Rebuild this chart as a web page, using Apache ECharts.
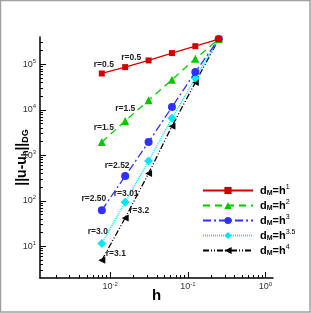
<!DOCTYPE html>
<html><head><meta charset="utf-8">
<script src="https://cdn.jsdelivr.net/npm/echarts@6/dist/echarts.min.js"></script>
<style>html,body{margin:0;padding:0;background:#fff}#c{width:311px;height:313px}</style>
</head><body><div id="c"></div>
<script>
// ---- data ----
const hValues = [1/128, 1/64, 1/32, 1/16, 1/8, 1/4];
const errH1  = [63000, 87000, 122000, 177000, 251000, 360000];
const errH2  = [1950, 5680, 16200, 46000, 133000, 360000];
const errH3  = [62, 350, 1950, 11500, 68000, 360000];
const errH35 = [11.5, 93, 750, 6500, 50000, 360000];
const errH4  = [4.9, 42, 400, 4350, 40000, 360000];
const notesH1  = ['r=0.5', 'r=0.5', '', '', '', ''];
const notesH2  = ['r=1.5', 'r=1.5', '', '', '', ''];
const notesH3  = ['r=2.50', 'r=2.52', '', '', '', ''];
const notesH35 = ['r=3.0', 'r=3.01', '', '', '', ''];
const notesH4  = ['r=3.1', 'r=3.2', '', '', '', ''];
const seriesNames = ['h1', 'h2', 'h3', 'h35', 'h4'];
const legendExp = ['1', '2', '3', '3.5', '4'];
const xMajorTicks = [0.01, 0.1, 1];
const yMajorTicks = [10, 100, 1000, 10000, 100000];
const xRange = [0.00125, 1.25];
const yRange = [2, 400000];

function minorTicks(lo, hi) {
  const out = [];
  for (let k = -4; k <= 6; k++) {
    for (let m = 2; m <= 9; m++) {
      const v = m * Math.pow(10, k);
      if (v > lo && v < hi) out.push(v);
    }
  }
  return out;
}

const labelRich = {
  b: {fontSize: 9, color: '#333', fontFamily: 'Liberation Sans', lineHeight: 12},
  s: {fontSize: 6, color: '#333', fontFamily: 'Liberation Sans', verticalAlign: 'top', lineHeight: 12, padding: [0, 0, 5, 0]}
};
const expFmt = v => '{b|10}{s|' + Math.round(Math.log10(v)) + '}';

const styles = [
  {color: '#d00000', dash: 'solid', symbol: 'rect', size: 6, rot: 0, offs: [[2, -9], [6, -9]]},
  {color: '#00c800', dash: [7, 5], symbol: 'triangle', size: 8, rot: 0, offs: [[2, -14], [0, -12]]},
  {color: '#3030ff', dash: [8, 3, 2, 3], symbol: 'circle', size: 8, rot: 0, offs: [[-8, -12], [-8, -10]]},
  {color: '#00e8f8', dash: [1, 1], symbol: 'diamond', size: 9, rot: 0, offs: [[-4, -12], [1, -9]]},
  {color: '#000000', dash: [6, 2, 1, 2, 1, 2], symbol: 'triangle', size: 7, rot: 90, offs: [[14, -7], [14, -7]]}
];
const allErr = [errH1, errH2, errH3, errH35, errH4];
const allNotes = [notesH1, notesH2, notesH3, notesH35, notesH4];

const series = seriesNames.map((n, i) => {
  const st = styles[i];
  return {
    name: n, type: 'line', xAxisIndex: 0, yAxisIndex: 0,
    symbol: st.symbol, symbolSize: st.size, symbolRotate: st.rot,
    itemStyle: {color: st.color},
    lineStyle: {color: st.color, width: i === 3 ? 1.5 : 1.3, type: st.dash},
    z: 10 - i,
    data: hValues.map((h, j) => {
      const d = {value: [h, allErr[i][j]]};
      if (allNotes[i][j]) {
        d.label = {show: true, formatter: allNotes[i][j], position: 'inside',
          offset: st.offs[j], color: '#222', fontSize: 8.5, fontWeight: 'bold', fontFamily: 'Liberation Sans'};
      }
      return d;
    })
  };
});

const gridRect = {left: 40, right: 38, top: 37, bottom: 35, containLabel: false, outerBoundsMode: 'none'};

const chart = echarts.init(document.getElementById('c'));
chart.setOption({
  animation: false,
  backgroundColor: '#fff',
  grid: [Object.assign({}, gridRect), Object.assign({}, gridRect)],
  graphic: [{type: 'rect', shape: {x: 0.5, y: 0.5, width: 309.5, height: 311.5}, style: {fill: 'none', stroke: '#a0a0a0', lineWidth: 1.5}, silent: true}],
  legend: {
    orient: 'vertical', left: 197, top: 179, itemWidth: 50, itemHeight: 9, itemGap: 2,
    data: seriesNames,
    formatter: name => '{a|d}{m|M}{a|=h}{e|' + legendExp[seriesNames.indexOf(name)] + '}',
    textStyle: {
      padding: [0, 0, 0, 2],
      rich: {
        a: {fontSize: 11, fontWeight: 'bold', color: '#000', fontFamily: 'Liberation Sans', lineHeight: 13},
        m: {fontSize: 7, fontWeight: 'bold', color: '#000', fontFamily: 'Liberation Sans', verticalAlign: 'bottom', lineHeight: 13},
        e: {fontSize: 7, color: '#000', fontFamily: 'Liberation Sans', verticalAlign: 'top', lineHeight: 13}
      }
    }
  },
  xAxis: [
    {type: 'log', gridIndex: 0, min: xRange[0], max: xRange[1], position: 'bottom',
     name: '{h|h}', nameLocation: 'middle', nameGap: 10, nameMoveOverlap: false,
     nameTextStyle: {rich: {h: {fontSize: 15, fontWeight: 'bold', color: '#000', fontFamily: 'Liberation Sans'}}},
     axisLine: {lineStyle: {color: '#000', width: 1.5}},
     axisTick: {inside: true, length: 6, customValues: xMajorTicks, lineStyle: {color: '#000'}},
     axisLabel: {customValues: xMajorTicks, margin: 3, formatter: expFmt, rich: labelRich},
     splitLine: {show: false}, minorTick: {show: false}},
    {type: 'log', gridIndex: 1, min: xRange[0], max: xRange[1], position: 'bottom',
     axisLine: {show: false},
     axisTick: {inside: true, length: 3, customValues: minorTicks(xRange[0], xRange[1]), lineStyle: {color: '#000'}},
     axisLabel: {show: false}, splitLine: {show: false}}
  ],
  yAxis: [
    {type: 'log', gridIndex: 0, min: yRange[0], max: yRange[1], position: 'left',
     name: '{a|||u-u}{s|h}{a|||}{s|DG}', nameLocation: 'middle', nameGap: 10, nameRotate: 90, nameMoveOverlap: false,
     nameTextStyle: {rich: {
       a: {fontSize: 14, fontWeight: 'bold', color: '#000', fontFamily: 'Liberation Sans', lineHeight: 16},
       s: {fontSize: 9, fontWeight: 'bold', color: '#000', fontFamily: 'Liberation Sans', verticalAlign: 'bottom', lineHeight: 16}
     }},
     axisLine: {lineStyle: {color: '#000', width: 1.5}},
     axisTick: {inside: true, length: 6, customValues: yMajorTicks, lineStyle: {color: '#000'}},
     axisLabel: {customValues: yMajorTicks, margin: 4, formatter: expFmt, rich: labelRich},
     splitLine: {show: false}, minorTick: {show: false}},
    {type: 'log', gridIndex: 1, min: yRange[0], max: yRange[1], position: 'left',
     axisLine: {show: false},
     axisTick: {inside: true, length: 3, customValues: minorTicks(yRange[0], yRange[1]), lineStyle: {color: '#000'}},
     axisLabel: {show: false}, splitLine: {show: false}}
  ],
  series: series
});
</script></body></html>
